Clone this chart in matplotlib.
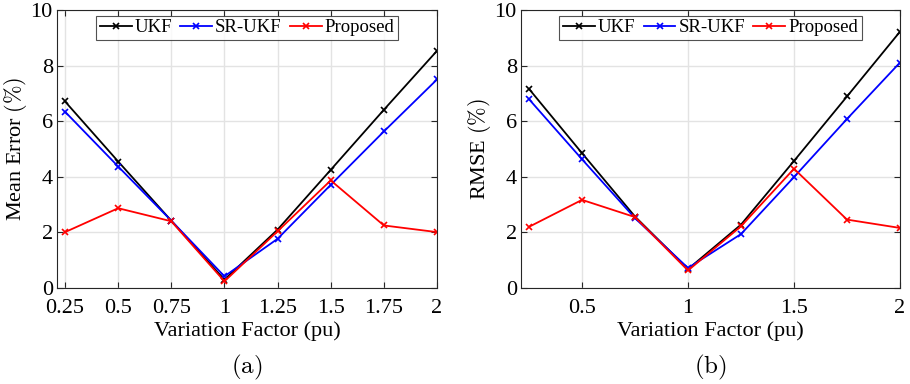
import numpy as np
import matplotlib
matplotlib.use("Agg")
import matplotlib.pyplot as plt

plt.rcParams['font.family'] = ['Liberation Serif', 'DejaVu Serif']
plt.rcParams['mathtext.fontset'] = 'cm'

factor = [0.25, 0.5, 0.75, 1.0, 1.25, 1.5, 1.75, 2.0]

# Mean error (%)
mean_ukf = [6.71, 4.55, 2.42, 0.30, 2.10, 4.25, 6.41, 8.53]
mean_srukf = [6.34, 4.37, 2.42, 0.42, 1.77, 3.71, 5.63, 7.50]
mean_prop = [2.01, 2.87, 2.40, 0.24, 2.04, 3.87, 2.25, 2.01]

# RMSE (%)
rmse_ukf = [7.16, 4.85, 2.57, 0.68, 2.28, 4.57, 6.89, 9.22]
rmse_srukf = [6.79, 4.63, 2.51, 0.72, 1.94, 3.99, 6.08, 8.11]
rmse_prop = [2.20, 3.17, 2.55, 0.63, 2.22, 4.29, 2.46, 2.16]

labels = ['UKF', 'SR-UKF', 'Proposed']
colors = ['black', 'blue', 'red']

fig = plt.figure(figsize=(9.1, 3.84), dpi=100)
ax_a = fig.add_axes([0.0626, 0.25, 0.4176, 0.724])
ax_b = fig.add_axes([0.5725, 0.25, 0.4165, 0.724])


def draw(ax, series, ylabel, xticks, tag):
    for y, lab, c in zip(series, labels, colors):
        ax.plot(factor, y, color=c, marker='x', markersize=4.5, markeredgewidth=1.2,
                linewidth=1.3, label=lab)
    ax.set_xlim(0.212, 2.0)
    ax.set_ylim(0, 10)
    ax.set_xticks(xticks)
    ax.set_xticklabels([f'{t:g}' for t in xticks])
    ax.set_yticks([0, 2, 4, 6, 8, 10])
    ax.grid(True, color='#e3e3e3', linewidth=1.0)
    ax.set_axisbelow(True)
    ax.tick_params(direction='in', top=True, right=True, labelsize=16,
                   length=4, color='#262626')
    ax.tick_params(axis='x', pad=8)
    ax.tick_params(axis='y', pad=3)
    for s in ax.spines.values():
        s.set_color('#262626')
        s.set_linewidth(0.8)
    ax.set_ylabel(ylabel, fontsize=16, labelpad=1)
    ax.set_xlabel('Variation Factor (pu)', fontsize=16, labelpad=2)
    ax.text(0.5, -0.285, r'$\mathrm{(' + tag + ')}$', transform=ax.transAxes,
            ha='center', va='center', fontsize=18)
    leg = ax.legend(loc='upper center', ncol=3, fontsize=13.5, frameon=True,
                    fancybox=False, edgecolor='#262626', handlelength=1.7,
                    handletextpad=0.16, columnspacing=0.43, borderpad=0.2,
                    borderaxespad=0.3)
    leg.get_frame().set_linewidth(0.8)


draw(ax_a, [mean_ukf, mean_srukf, mean_prop], r'Mean Error $(\%)$', factor, 'a')
draw(ax_b, [rmse_ukf, rmse_srukf, rmse_prop], r'RMSE $(\%)$', [0.5, 1.0, 1.5, 2.0], 'b')

fig.savefig('out.png', dpi=100)
